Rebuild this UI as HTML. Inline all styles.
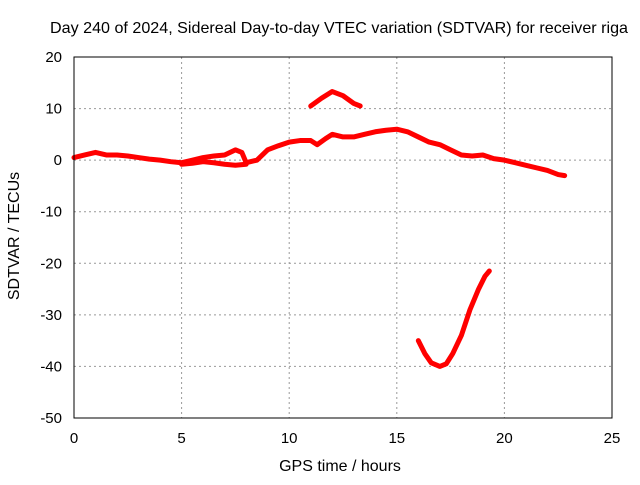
<!DOCTYPE html>
<html><head><meta charset="utf-8"><style>
body{margin:0;background:#fff;}
svg{font-family:"Liberation Sans",sans-serif;font-size:14px;}
</style></head><body>
<svg id="chart" width="640" height="480">
<rect width="640" height="480" fill="#fff"/>
<text x="339" y="33" text-anchor="middle" font-size="16" textLength="578" lengthAdjust="spacingAndGlyphs">Day 240 of 2024, Sidereal Day-to-day VTEC variation (SDTVAR) for receiver riga</text>
<g id="grid"></g>
<g id="ticks"></g>
<g id="series"></g>
<rect x="74" y="57" width="538" height="361" fill="none" stroke="#000"/>
<text x="340" y="471" text-anchor="middle" font-size="16">GPS time / hours</text>
<text transform="translate(19,236) rotate(-90)" text-anchor="middle" font-size="16">SDTVAR / TECUs</text>
</svg>
<script>
const xTicks=[0,5,10,15,20,25];
const yTicks=[20,10,0,-10,-20,-30,-40,-50];
const mainX=[0,0.5,1,1.5,2,2.5,3,3.5,4,4.5,5,5.5,6,6.5,7,7.5,7.8,8,8.5,9,9.5,10,10.5,11,11.3,11.7,12,12.5,13,13.5,14,14.5,15,15.5,16,16.5,17,17.5,18,18.5,19,19.5,20,20.5,21,21.5,22,22.5,22.8];
const mainY=[0.5,1,1.5,1,1,0.8,0.5,0.2,0,-0.3,-0.5,0,0.5,0.8,1,2,1.5,-0.5,0,2,2.8,3.5,3.8,3.8,3,4.2,5,4.5,4.5,5,5.5,5.8,6,5.5,4.5,3.5,3,2,1,0.8,1,0.3,0,-0.5,-1,-1.5,-2,-2.8,-3];
const lowX=[5,5.5,6,6.5,7,7.5,8];
const lowY=[-0.8,-0.6,-0.3,-0.5,-0.8,-1,-0.8];
const arc1X=[11,11.5,12,12.5,13,13.3];
const arc1Y=[10.5,12,13.3,12.5,11,10.5];
const arc2X=[16,16.3,16.6,17,17.3,17.6,18,18.4,18.8,19.1,19.3];
const arc2Y=[-35,-37.5,-39.3,-40,-39.5,-37.5,-34,-29,-25,-22.5,-21.5];
const X=v=>74+v*538/25, Y=v=>57+(20-v)*361/70;
const NS="http://www.w3.org/2000/svg";
function mk(t,a,p){const e=document.createElementNS(NS,t);for(const k in a)e.setAttribute(k,a[k]);p.appendChild(e);return e;}
const g=document.getElementById('grid'),tk=document.getElementById('ticks'),s=document.getElementById('series');
xTicks.forEach(v=>{
 if(v>0&&v<25){const l=mk('line',{x1:X(v),x2:X(v),y1:57,y2:418,stroke:'#999','stroke-dasharray':'2,3'},g);
 
 }
 const t=mk('text',{x:X(v),y:443,'text-anchor':'middle','font-size':15},tk);t.textContent=v;
 
 
});
yTicks.forEach(v=>{
 if(v<20&&v>-50){const l=mk('line',{x1:74,x2:612,y1:Y(v),y2:Y(v),stroke:'#999','stroke-dasharray':'2,3'},g);
 
 }
 const t=mk('text',{x:62,y:Y(v)+5,'text-anchor':'end','font-size':15},tk);t.textContent=v;
 
 
});
function draw(xs,ys,name){
 const pts=xs.map((x,i)=>X(x)+','+Y(ys[i])).join(' ');
 const p=mk('polyline',{points:pts,fill:'none',stroke:'#f00','stroke-width':5,'stroke-linejoin':'round','stroke-linecap':'round'},s);
 
 
}
draw(mainX,mainY,'main-series');
draw(lowX,lowY,'lower-track');
draw(arc1X,arc1Y,'upper-arc');
draw(arc2X,arc2Y,'lower-arc');
</script>
</body></html>
